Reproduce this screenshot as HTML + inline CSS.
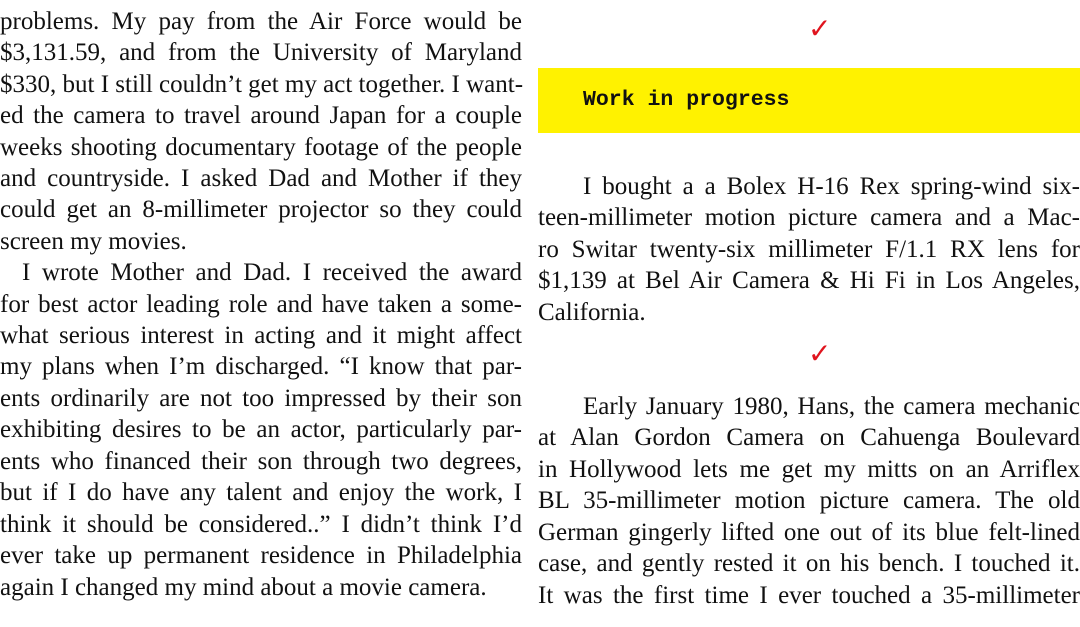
<!DOCTYPE html>
<html><head><meta charset="utf-8"><style>
body{margin:0;width:1080px;height:627px;background:#fff;position:relative;overflow:hidden;font-family:"Liberation Serif",serif;font-size:25px;color:#111}
.l{position:absolute;height:32px;line-height:32px;white-space:nowrap;text-align:justify;text-align-last:justify}
.L{left:0;width:522px}
.R{left:583px;width:497px}
.Rf{left:538px;width:542px}
.ck{position:absolute;left:808px;color:#e0141e;font-size:28px;line-height:32px}
.y{position:absolute;left:538px;top:68px;width:542px;height:65px;background:#fff200}
.y span{position:absolute;left:45px;top:19px;font-family:"Liberation Mono",monospace;font-weight:bold;font-size:21.5px;line-height:26px}
.last{text-align-last:left}
</style></head><body>
<div class="l L" style="top:6px">problems. My pay from the Air Force would be</div>
<div class="l L" style="top:37px">$3,131.59, and from the University of Maryland</div>
<div class="l L" style="top:69px">$330, but I still couldn’t get my act together. I want-</div>
<div class="l L" style="top:100px">ed the camera to travel around Japan for a couple</div>
<div class="l L" style="top:132px">weeks shooting documentary footage of the people</div>
<div class="l L" style="top:163px">and countryside. I asked Dad and Mother if they</div>
<div class="l L" style="top:194px">could get an 8-millimeter projector so they could</div>
<div class="l L last" style="top:226px">screen my movies.</div>
<div class="l L" style="top:257px;left:22px;width:500px">I wrote Mother and Dad. I received the award</div>
<div class="l L" style="top:289px">for best actor leading role and have taken a some-</div>
<div class="l L" style="top:320px">what serious interest in acting and it might affect</div>
<div class="l L" style="top:351px">my plans when I’m discharged. “I know that par-</div>
<div class="l L" style="top:383px">ents ordinarily are not too impressed by their son</div>
<div class="l L" style="top:414px">exhibiting desires to be an actor, particularly par-</div>
<div class="l L" style="top:446px">ents who financed their son through two degrees,</div>
<div class="l L" style="top:477px">but if I do have any talent and enjoy the work, I</div>
<div class="l L" style="top:509px">think it should be considered..” I didn’t think I’d</div>
<div class="l L" style="top:540px">ever take up permanent residence in Philadelphia</div>
<div class="l L last" style="top:572px">again I changed my mind about a movie camera.</div>

<div class="ck" style="top:14px">✓</div>
<div class="y"><span>Work in progress</span></div>

<div class="l R" style="top:171px">I bought a a Bolex H-16 Rex spring-wind six-</div>
<div class="l Rf" style="top:202px">teen-millimeter motion picture camera and a Mac-</div>
<div class="l Rf" style="top:234px">ro Switar twenty-six millimeter F/1.1 RX lens for</div>
<div class="l Rf" style="top:265px">$1,139 at Bel Air Camera &amp; Hi Fi in Los Angeles,</div>
<div class="l Rf last" style="top:297px">California.</div>

<div class="ck" style="top:339px">✓</div>

<div class="l R" style="top:391px">Early January 1980, Hans, the camera mechanic</div>
<div class="l Rf" style="top:422px">at Alan Gordon Camera on Cahuenga Boulevard</div>
<div class="l Rf" style="top:454px">in Hollywood lets me get my mitts on an Arriflex</div>
<div class="l Rf" style="top:485px">BL 35-millimeter motion picture camera. The old</div>
<div class="l Rf" style="top:517px">German gingerly lifted one out of its blue felt-lined</div>
<div class="l Rf" style="top:548px">case, and gently rested it on his bench. I touched it.</div>
<div class="l Rf" style="top:580px">It was the first time I ever touched a 35-millimeter</div>
</body></html>
